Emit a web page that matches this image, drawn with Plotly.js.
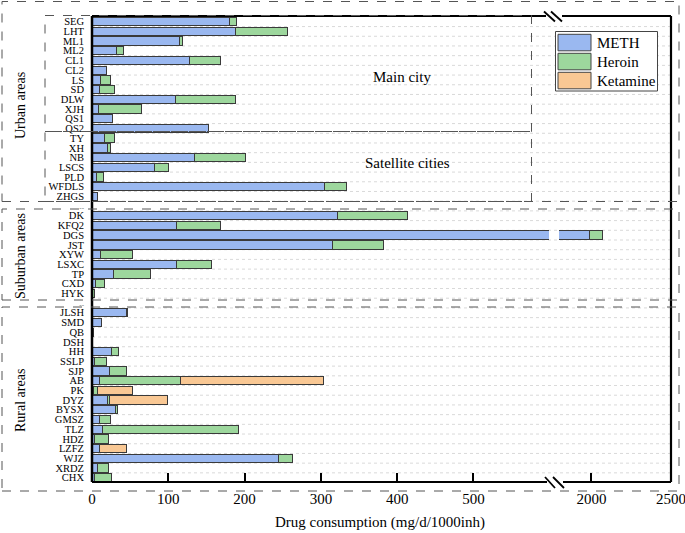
<!DOCTYPE html>
<html>
<head>
<meta charset="utf-8">
<script src="https://cdn.plot.ly/plotly-3.0.1.min.js"></script>
<style>html,body{margin:0;padding:0;background:#fff;}#chart{width:685px;height:533px;}</style>
</head>
<body>
<div id="chart"></div>
<script>
// ---- data ----
const categories = ['SEG','LHT','ML1','ML2','CL1','CL2','LS','SD','DLW','XJH','QS1','QS2',
  'TY','XH','NB','LSCS','PLD','WFDLS','ZHGS','--',
  'DK','KFQ2','DGS','JST','XYW','LSXC','TP','CXD','HYK','--',
  'JLSH','SMD','QB','DSH','HH','SSLP','SJP','AB','PK','DYZ','BYSX','GMSZ','TLZ','HDZ','LZFZ','WJZ','XRDZ','CHX'];
const meth = [180,188,115,32,127.5,18.7,11.3,10,109.6,8.3,26.6,153.3,
  16.5,20.4,134.5,82,6,305,7.4,null,
  322,110.5,1990,315.3,11.3,110.5,28.3,4.7,1,null,
  44.6,12.6,1.5,0,25.7,3.9,23,9.2,2,19.7,31,10,14.4,3.5,10,244.6,7.4,3];
const heroin = [9.5,68,4,9.5,41,0,12.7,19,79,57,0,0,
  13,3.6,67,18.4,9.2,29,0,null,
  91,58,82,67,42,46.5,48.5,11.3,2,null,
  1.7,0,0,0,9.2,15.2,21.6,106.8,5.4,3,2.6,14.4,177.6,18.3,0,18.4,14,22.3];
const ketamine = [0,0,0,0,0,0,0,0,0,0,0,0,
  0,0,0,0,0,0,0,null,
  0,0,0,0,0,0,0,0,0,null,
  0,0,0,0,0,0,0,186.8,46.3,76,0,0,0,0,35.4,0,0,0];
const seriesNames = ['METH','Heroin','Ketamine'];
const seriesColors = ['#9ab8f0','#9dd79d','#f9c894'];
const leftTicks = [0,100,200,300,400,500];
const rightTicks = [2000,2500];
const regionLabels = ['Urban areas','Suburban areas','Rural areas'];
const subRegionLabels = ['Main city','Satellite cities'];
const xTitle = 'Drug consumption (mg/d/1000inh)';

const FONT = '"Liberation Serif", "Times New Roman", Times, serif';

// ---- geometry helpers (pixel -> paper) ----
const L = 92, R = 671, T = 16, B = 482;
const W = R - L, H = B - T;
const px = v => (v - L) / W;
const py = v => (B - v) / H;

const idx = categories.map((c, i) => i);
const series = [meth, heroin, ketamine];
const traces = [];
['x', 'x2'].forEach((xa) => {
  series.forEach((vals, s) => {
    traces.push({
      type: 'bar', orientation: 'h', x: vals, y: idx,
      name: seriesNames[s], xaxis: xa, yaxis: 'y',
      width: 0.86, showlegend: false,
      marker: {color: seriesColors[s], line: {color: '#3a3a3a', width: 1}},
      hoverinfo: 'skip'
    });
  });
});

const d1 = px(549), d2 = px(559);
const ticktext = categories.map(c => c === '--' ? '<span style="font-size:7px;color:#555">--</span>' : c);

const shapes = [];
// grid lines at row boundaries
for (let i = 0; i < categories.length - 1; i++) {
  shapes.push({type: 'line', xref: 'paper', yref: 'y', x0: 0, x1: 1, y0: i + 0.5, y1: i + 0.5,
    line: {color: '#cfcfcf', width: 0.8, dash: 'dot'}, layer: 'below'});
}
const blk = {color: '#000', width: 2.2};
// frame
shapes.push({type: 'line', xref: 'paper', yref: 'paper', x0: 0, x1: 0, y0: 0, y1: 1, line: {color: '#000', width: 2.5}});
shapes.push({type: 'line', xref: 'paper', yref: 'paper', x0: 1, x1: 1, y0: 0, y1: 1, line: blk});
shapes.push({type: 'line', xref: 'paper', yref: 'paper', x0: 0, x1: px(547), y0: 0, y1: 0, line: blk});
shapes.push({type: 'line', xref: 'paper', yref: 'paper', x0: px(563), x1: 1, y0: 0, y1: 0, line: blk});
shapes.push({type: 'line', xref: 'paper', yref: 'paper', x0: 0, x1: px(546), y0: 1, y1: 1, line: blk});
shapes.push({type: 'line', xref: 'paper', yref: 'paper', x0: px(562), x1: 1, y0: 1, y1: 1, line: blk});
// break marks
[[544,11.5,555,21.5],[551,11.5,562,21.5],[545,477,555,488],[553,477,564,488]].forEach(s => {
  shapes.push({type: 'line', xref: 'paper', yref: 'paper', x0: px(s[0]), y0: py(s[1]), x1: px(s[2]), y1: py(s[3]),
    line: {color: '#000', width: 1.8}});
});
// dashed region boxes
const box = (x0, y0, x1, y1) => shapes.push({type: 'rect', xref: 'paper', yref: 'paper',
  x0: px(x0), x1: px(x1), y0: py(y1), y1: py(y0), line: {color: '#555', width: 1, dash: 'dash'}});
box(2, 1.5, 679, 201.5);
box(45, 15.5, 531.5, 131.5);
box(45, 131.5, 531.5, 201.5);
box(2, 209, 679, 300);
box(2, 307, 679, 491);
// legend
shapes.push({type: 'rect', xref: 'paper', yref: 'paper', x0: px(555.5), x1: px(657.5), y0: py(91), y1: py(31.5),
  line: {color: '#444', width: 1}, fillcolor: '#fff'});
const annotations = [];
seriesNames.forEach((n, s) => {
  const top = 34.3 + s * 19;
  shapes.push({type: 'rect', xref: 'paper', yref: 'paper', x0: px(558), x1: px(591), y0: py(top + 16.5), y1: py(top),
    line: {color: '#444', width: 1}, fillcolor: seriesColors[s]});
  annotations.push({xref: 'paper', yref: 'paper', x: px(595), y: py(top + 8.5), xanchor: 'left', yanchor: 'middle',
    text: n, showarrow: false, font: {family: FONT, size: 15, color: '#000'}});
});
// region labels
[[20, 106], [20, 256], [20, 401]].forEach((p, i) => {
  annotations.push({xref: 'paper', yref: 'paper', x: px(p[0]), y: py(p[1]), xanchor: 'center', yanchor: 'middle',
    text: regionLabels[i], textangle: -90,
    showarrow: false, font: {family: FONT, size: 14, color: '#000'}});
});
[[402, 76.5], [407.5, 163]].forEach((p, i) => {
  annotations.push({xref: 'paper', yref: 'paper', x: px(p[0]), y: py(p[1]), xanchor: 'center', yanchor: 'middle',
    text: subRegionLabels[i],
    showarrow: false, font: {family: FONT, size: 15, color: '#000'}});
});
annotations.push({xref: 'paper', yref: 'paper', x: px(380), y: py(522), xanchor: 'center', yanchor: 'middle',
  text: xTitle, showarrow: false, font: {family: FONT, size: 15, color: '#000'}});

const axisCommon = {
  showgrid: false, zeroline: false, showline: false,
  ticks: 'inside', ticklen: 9, tickwidth: 2, tickcolor: '#000', ticklabelstandoff: 6,
  ticklabeloverflow: 'allow',
  tickfont: {family: FONT, size: 15, color: '#000'}, tickmode: 'array'
};
const layout = {
  width: 685, height: 533,
  margin: {l: L, r: 685 - R, t: T, b: 533 - B},
  paper_bgcolor: '#fff', plot_bgcolor: 'rgba(0,0,0,0)',
  barmode: 'stack', showlegend: false,
  xaxis: Object.assign({}, axisCommon, {domain: [0, d1], range: [0, 599], tickvals: leftTicks, ticktext: leftTicks.map(String), anchor: 'y'}),
  xaxis2: Object.assign({}, axisCommon, {domain: [d2, 1], range: [1796, 2500.5], tickvals: rightTicks, ticktext: rightTicks.map(String), anchor: 'y'}),
  yaxis: {range: [47.443, -0.587], tickmode: 'array', tickvals: idx, ticktext: ticktext,
    showgrid: false, zeroline: false, showline: false, ticks: '', ticklabelstandoff: 7,
    tickfont: {family: FONT, size: 10.5, color: '#000'}},
  shapes: shapes, annotations: annotations,
  font: {family: FONT}
};
Plotly.newPlot('chart', traces, layout, {staticPlot: true, displayModeBar: false});
</script>
</body>
</html>
